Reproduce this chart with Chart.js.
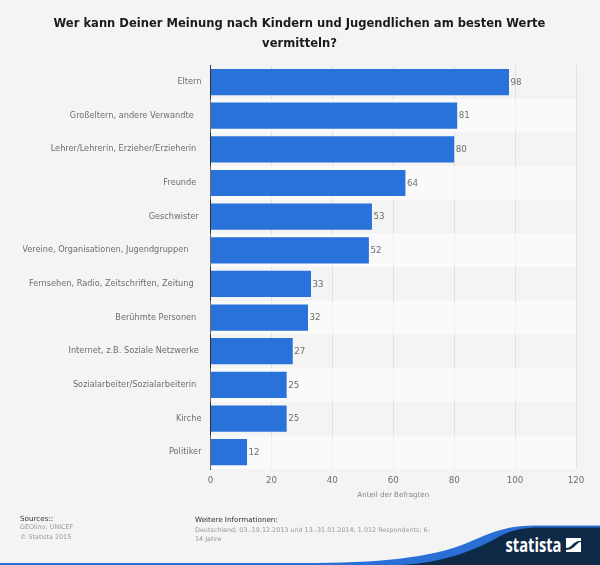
<!DOCTYPE html>
<html><head><meta charset="utf-8">
<style>
html,body{margin:0;padding:0;background:#f4f4f4;width:600px;height:565px;overflow:hidden;font-family:"DejaVu Sans",sans-serif}
#wrap{position:relative;width:600px;height:565px}
canvas#c{position:absolute;left:0;top:0}
.t{position:absolute;white-space:nowrap;font-size:6.4px;line-height:9.5px;color:#999}
.h{color:#333}
svg{position:absolute;left:0;top:0}
</style>
<script src="https://cdn.jsdelivr.net/npm/chart.js@4"></script>
</head><body><div id="wrap">
<svg width="600" height="565" viewBox="0 0 600 565">
<path d="M0 563 L300 563 C380 563 430 558 467 543 C490 533 505 525.5 535 525.5 L600 525.5 L600 565 L0 565 Z" fill="#2a6fd6"/>
<path d="M400 565 C445 563 478 549 500 536 C515 528 530 527.5 545 527.5 L600 527.5 L600 565 Z" fill="#0e2a47"/>
<text x="505.5" y="552" font-family="Open Sans" font-weight="700" font-size="19.5" fill="#fff" textLength="56" lengthAdjust="spacingAndGlyphs">statista</text>
<path d="M566 538 H581 V541 C576 541 574 543 571 546 C570 547 568 548 566 548 Z M581 542 V552 H566 V550 C571 550 574 547 576 545 C578 543 579 542 581 542 Z" fill="#fff"/>
</svg>
<canvas id="c" width="600" height="565"></canvas>
<div class="t h" style="left:20px;top:514px;font-size:7.2px">Sources::</div>
<div class="t" style="left:20px;top:523.2px">GEOlino; UNICEF</div>
<div class="t" style="left:20px;top:532.5px">© Statista 2015</div>
<div class="t h" style="left:195px;top:514.5px;font-size:7.2px">Weitere Informationen:</div>
<div class="t" style="left:195px;top:525.5px">Deutschland; 03.-19.12.2013 und 13.-31.01.2014; 1.012 Respondents; 6-</div>
<div class="t" style="left:195px;top:535px">14 Jahre</div>
</div>
<script>
const categories = ["Eltern","Großeltern, andere Verwandte   ","Lehrer/Lehrerin, Erzieher/Erzieherin  ","Freunde  ","Geschwister ","Vereine, Organisationen, Jugendgruppen     ","Fernsehen, Radio, Zeitschriften, Zeitung   ","Berühmte Personen  ","Internet, z.B. Soziale Netzwerke ","Sozialarbeiter/Sozialarbeiterin  ","Kirche","Politiker"];
const values = [98,81,80,64,53,52,33,32,27,25,25,12];
const titleLines = ["Wer kann Deiner Meinung nach Kindern und Jugendlichen am besten Werte","vermitteln?"];
const xTicks = [0,20,40,60,80,100,120];
const bands = {id:'bands',beforeDatasetsDraw(ch){
  const {ctx,chartArea:a,scales:{y}}=ch; ctx.save();
  categories.forEach((_,i)=>{ if(i%2===1){ const s=y.getPixelForValue(i)-y.height/categories.length/2;
    ctx.fillStyle='rgba(255,255,255,0.55)'; ctx.fillRect(a.left,s,a.width,y.height/categories.length);} });
  ctx.restore();
}};
const labels = {id:'vals',afterDatasetsDraw(ch){
  const {ctx}=ch; const m=ch.getDatasetMeta(0); ctx.save();
  ctx.font='8.7px "DejaVu Sans"'; ctx.fillStyle='#6e6e6e'; ctx.textBaseline='middle'; ctx.textAlign='left';
  m.data.forEach((b,i)=>ctx.fillText(String(values[i]),b.x+1.5,b.y+0.5)); ctx.restore();
}};
new Chart(document.getElementById('c'),{
  type:'bar',
  data:{labels:categories,datasets:[{data:values,backgroundColor:'#2872d9',borderWidth:0,barPercentage:0.78,categoryPercentage:1}]},
  plugins:[bands,labels],
  options:{indexAxis:'y',responsive:false,animation:false,devicePixelRatio:1,
    layout:{padding:{left:23,right:24,top:0,bottom:62}},
    plugins:{legend:{display:false},tooltip:{enabled:false},
      title:{display:true,text:titleLines,color:'#1a1a1a',font:{family:'"DejaVu Sans"',size:11.55,weight:'bold',lineHeight:1.72},padding:{top:14,bottom:11.5}}},
    scales:{
      x:{type:'linear',min:0,max:120,afterBuildTicks(s){s.ticks=xTicks.map(v=>({value:v}));},afterFit(s){s.height=34;},
        grid:{color:'#e0e0e0',drawTicks:false,lineWidth:1},border:{display:false},
        ticks:{color:'#6e6e6e',font:{family:'"DejaVu Sans"',size:8.7},padding:7,maxRotation:0},
        title:{display:true,text:'Anteil der Befragten',color:'#888',font:{family:'"DejaVu Sans"',size:7.1},padding:{top:0,bottom:3.5}}},
      y:{type:'category',afterFit(s){s.width=187.5;},
        grid:{display:false,drawTicks:false},border:{display:true,color:'#333',width:1},
        ticks:{color:'#6e6e6e',font:{family:'"DejaVu Sans"',size:8.2},padding:9,autoSkip:false}}
    }}
});
</script></body></html>
